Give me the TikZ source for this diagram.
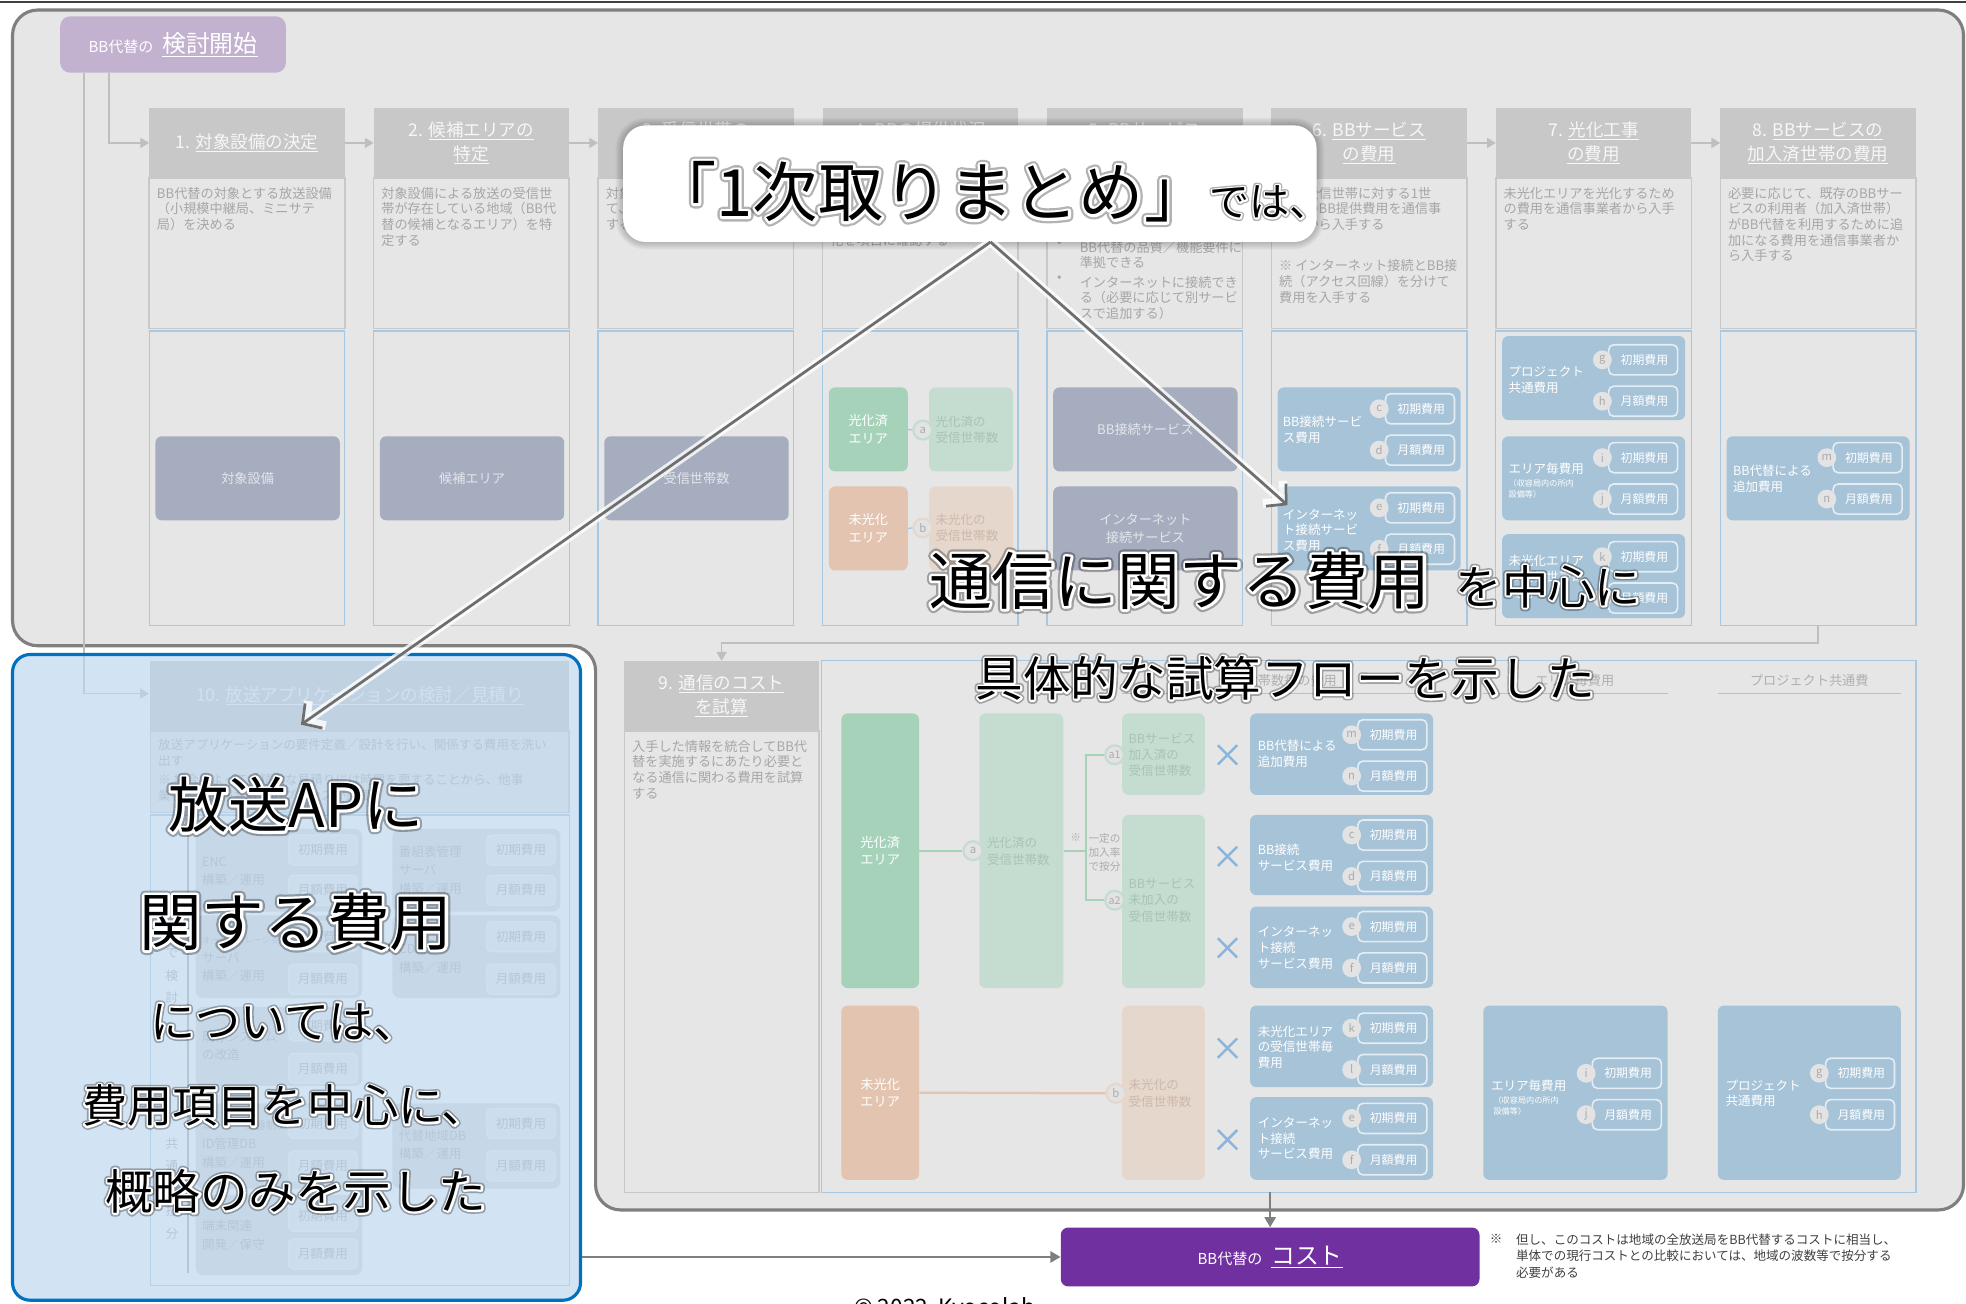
\documentclass[tikz,border=0pt]{standalone}
\usepackage{fontspec}
\setmainfont{Noto Sans CJK JP}
\newfontfamily\oW[FakeBold=8]{Noto Sans CJK JP}
\newfontfamily\oD[FakeBold=15]{Noto Sans CJK JP}
\usetikzlibrary{arrows.meta,calc}
\definecolor{bg}{HTML}{E6E6E6}
\definecolor{outerc}{HTML}{7F7F7F}
\definecolor{hdrc}{HTML}{C8C8C8}
\definecolor{hdrtxt}{HTML}{F7F7F7}
\definecolor{descbd}{HTML}{C8C8C8}
\definecolor{dtxt}{HTML}{A6A6A6}
\definecolor{lowbd}{HTML}{A8C8E2}
\definecolor{slatec}{HTML}{A6ADBE}
\definecolor{slatetxt}{HTML}{E3E6EC}
\definecolor{costc}{HTML}{A7C3D8}
\definecolor{subbd}{HTML}{E4EDF4}
\definecolor{circf}{HTML}{E3E3E3}
\definecolor{circt}{HTML}{ABABAB}
\definecolor{gr1}{HTML}{A6D2BA}
\definecolor{gr2}{HTML}{C5DDD0}
\definecolor{gr2t}{HTML}{A8C2B4}
\definecolor{or1}{HTML}{E2C4B0}
\definecolor{or2}{HTML}{E5D7CC}
\definecolor{or2t}{HTML}{CDB8AA}
\definecolor{purl}{HTML}{C3B1D0}
\definecolor{purd}{HTML}{7030A0}
\definecolor{conncol}{HTML}{BFBFBF}
\definecolor{crossc}{HTML}{8DB5DA}
\definecolor{arrowc}{HTML}{6E6E6E}
\definecolor{bluep}{HTML}{0070C0}
\definecolor{bluefill}{HTML}{BDD7EE}
\definecolor{notet}{HTML}{404040}
\definecolor{grpf}{HTML}{DCDCDC}
\definecolor{fhc}{HTML}{B0B0B0}
\newcommand\fsz[2]{\fontsize{#1}{#2}\selectfont}
\newcommand\rbox[7]{\node[#6,minimum width={(#4-#2)*1pt},minimum height={(#5-#3)*1pt}] (#1) at ({(#2+#4)/2},{(#3+#5)/2}) {#7};}
\newcommand\sbx[5]{\node[subb] (#1) at ({#2+32.5},#3) {\hspace*{2pt}#5};\node[circ] (#1c) at (#2,#3) {#4};}
\newcommand\tbx[4]{\node[subten] (#1) at ({#2+27.5},#3) {#4};}
\newcommand\otext[5]{%
  \node[text=black,opacity=0.3,font={\oD#4},inner sep=0pt] (#1d) at (#2,#3) {#5};%
  \node[text=white,font={\oW#4},inner sep=0pt] (#1w) at (#2,#3) {#5};%
  \node[text=black,font=#4,inner sep=0pt] (#1) at (#2,#3) {#5};}
\begin{document}
\begin{tikzpicture}[x=1pt,y=-1pt,
 hdr/.style={fill=hdrc,text=hdrtxt,inner sep=0pt,outer sep=0pt,align=center,font=\fsz{14}{19}},
 descb/.style={fill=bg,draw=descbd,line width=1.2pt,inner sep=0pt,outer sep=0pt},
 lowb/.style={draw=lowbd,line width=1pt,inner sep=0pt,outer sep=0pt},
 slatebox/.style={fill=slatec,rounded corners=5pt,text=slatetxt,inner sep=0pt,align=center,font=\fsz{10.5}{14}},
 costbox/.style={fill=costc,rounded corners=5pt,inner sep=0pt},
 subb/.style={draw=subbd,line width=1.3pt,fill=costc,rounded corners=4pt,minimum width=55pt,minimum height=24pt,inner sep=0pt,text=white,font=\fsz{9.5}{11}},
 circ/.style={circle,fill=circf,text=circt,minimum size=15pt,inner sep=0pt,font=\fsz{9}{10}},
 circg/.style={circle,fill=circf,draw=gr2,line width=1.8pt,text=circt,minimum size=15pt,inner sep=0pt,font=\fsz{9}{10}},
 circo/.style={circle,fill=circf,draw=or2,line width=1.8pt,text=circt,minimum size=15pt,inner sep=0pt,font=\fsz{9}{10}},
 dtext/.style={text=dtxt,align=left,anchor=north west,inner sep=0pt,font=\fsz{10.5}{12.5}},
 ltext/.style={text=white,align=left,anchor=west,inner sep=0pt,font=\fsz{10}{12.5}},
 gtext/.style={text=gr2t,align=left,anchor=west,inner sep=0pt,font=\fsz{10}{13}},
 otxt/.style={text=or2t,align=left,anchor=west,inner sep=0pt,font=\fsz{10}{13}},
 greenbox/.style={fill=gr1,rounded corners=5pt,text=white,align=center,inner sep=0pt,font=\fsz{10.5}{14}},
 lgreenbox/.style={fill=gr2,rounded corners=5pt,inner sep=0pt},
 orangebox/.style={fill=or1,rounded corners=5pt,text=white,align=center,inner sep=0pt,font=\fsz{10.5}{14}},
 lorangebox/.style={fill=or2,rounded corners=5pt,inner sep=0pt},
 conn/.style={draw=conncol,line width=1.3pt},
 tipg/.style={-{Triangle[length=7pt,width=8pt]}},
 gline/.style={draw=gr1,line width=1.8pt},
 oline/.style={draw=or1,line width=1.8pt},
 crossn/.style={minimum size=15pt,inner sep=0pt},
 grp/.style={fill=grpf,rounded corners=6pt,inner sep=0pt},
 subten/.style={draw=white!70!bg,line width=1pt,fill=white!30!bg,rounded corners=4pt,minimum width=55pt,minimum height=24pt,inner sep=0pt,text=dtxt,font=\fsz{10}{11}},
 ttext/.style={text=dtxt,align=left,anchor=west,inner sep=0pt,font=\fsz{10}{15}},
 fhead/.style={text=fhc,inner sep=0pt,font=\fsz{10.5}{12}},
]
\useasboundingbox (0,0) rectangle (1568,1040);
\fill[white] (0,0) rectangle (1568,1040);
\draw[line width=2pt,draw=black!75] (0,1.5) -- (1568,1.5);
% outer L region
\draw[line width=2.5pt,draw=outerc,fill=bg,rounded corners=20pt] (10,8) -- (1566,8) -- (1566,965) -- (475,965) -- (475,515) -- (10,515) -- cycle;
% start box
\rbox{start}{48}{13}{228}{58}{fill=purl,rounded corners=8pt,text=white,inner sep=0pt}{{\fsz{12}{14}BB代替の}\hspace{7pt}{\fsz{19}{22}\underline{検討開始}}}
% columns
\rbox{h1}{119}{86}{275}{142}{hdr}{1. \underline{対象設備の決定}}
\rbox{h2}{298}{86}{454}{142}{hdr}{2. \underline{候補エリアの}\\\underline{特定}}
\rbox{h3}{477}{86}{633}{142}{hdr}{3. \underline{受信世帯の}\\\underline{把握}}
\rbox{h4}{656}{86}{812}{142}{hdr}{4. \underline{BBの提供状況}\\\underline{の確認}}
\rbox{h5}{835}{86}{991}{142}{hdr}{5. \underline{BBサービス}\\\underline{の選定}}
\rbox{h6}{1014}{86}{1170}{142}{hdr}{6. \underline{BBサービス}\\\underline{の費用}}
\rbox{h7}{1193}{86}{1349}{142}{hdr}{7. \underline{光化工事}\\\underline{の費用}}
\rbox{h8}{1372}{86}{1528}{142}{hdr}{8. \underline{BBサービスの}\\\underline{加入済世帯の費用}}
\foreach \i/\xl in {1/119,2/298,3/477,4/656,5/835,6/1014,7/1193,8/1372}{
  \rbox{d\i}{\xl}{142}{\xl+156}{262}{descb}{}
  \rbox{l\i}{\xl}{264}{\xl+156}{499}{lowb}{}
}
\foreach \a/\b in {1/2,2/3,3/4,4/5,5/6,6/7,7/8}{\draw[conn,tipg] (h\a.east) -- (h\b.west);}
\draw[conn,tipg] ($(start.south west)+(39,0)$) |- (h1.west);
\draw[conn,tipg] ($(start.south west)+(19,0)$) |- ($(start.south west)+(71,495)$);
% descriptions
\node[dtext] (t1) at (125,149) {BB代替の対象とする放送設備\\（小規模中継局、ミニサテ\\局）を決める};
\node[dtext] (t2) at (304,149) {対象設備による放送の受信世\\帯が存在している地域（BB代\\替の候補となるエリア）を特\\定する};
\node[dtext] (t3) at (483,149) {対象エリア内の受信世帯数につい\\て、光化済／未光化に分けて把握\\する};
\node[dtext] (t4) at (662,149) {対象エリアにおけるBBサー\\ビスの提供状況を受信世帯\\数で把握し、光化済／未光\\化を項目に確認する};
\node[dtext] (t5a) at (843,192) {•};
\node[dtext] (t5b) at (861,192) {BB代替の品質／機能要件に\\準拠できる};
\node[dtext] (t5c) at (843,220) {•};
\node[dtext] (t5d) at (861,220) {インターネットに接続でき\\る（必要に応じて別サービ\\スで追加する）};
\node[dtext] (t6) at (1020,149) {対象受信世帯に対する1世\\帯毎のBB提供費用を通信事\\業者から入手する};
\node[dtext] (t6b) at (1020,207) {※ インターネット接続とBB接\\続（アクセス回線）を分けて\\費用を入手する};
\node[dtext] (t7) at (1199,149) {未光化エリアを光化するため\\の費用を通信事業者から入手\\する};
\node[dtext] (t8) at (1378,149) {必要に応じて、既存のBBサー\\ビスの利用者（加入済世帯）\\がBB代替を利用するために追\\加になる費用を通信事業者か\\ら入手する};
% lower contents
\rbox{s1}{124}{348}{271}{415}{slatebox}{対象設備}
\rbox{s2}{303}{348}{450}{415}{slatebox}{候補エリア}
\rbox{s3}{482}{348}{629}{415}{slatebox}{受信世帯数}
\rbox{g4a}{661}{309}{724}{376}{greenbox}{光化済\\エリア}
\rbox{g4b}{741}{309}{808}{376}{lgreenbox}{}
\node[gtext] (g4bt) at (746,343) {光化済の\\受信世帯数};
\node[circg] (g4c) at (736,343) {a};
\draw[draw=lowbd,line width=1pt] (g4a.east) -- (g4c.west);
\rbox{o4a}{661}{388}{724}{455}{orangebox}{未光化\\エリア}
\rbox{o4b}{741}{388}{808}{455}{lorangebox}{}
\node[otxt] (o4bt) at (746,421) {未光化の\\受信世帯数};
\node[circo] (o4c) at (736,421) {b};
\draw[draw=lowbd,line width=1pt] (o4a.east) -- (o4c.west);
\rbox{s5a}{840}{309}{987}{376}{slatebox}{BB接続サービス}
\rbox{s5b}{840}{388}{987}{455}{slatebox}{インターネット\\接続サービス}
\rbox{c6a}{1019}{309}{1165}{376}{costbox}{}
\node[ltext] (c6at) at (1023,343) {BB接続サービ\\ス費用};
\sbx{c6c}{1100}{326}{c}{初期費用}
\sbx{c6d}{1100}{359}{d}{月額費用}
\rbox{c6b}{1019}{388}{1165}{455}{costbox}{}
\node[ltext] (c6bt) at (1023,423) {インターネッ\\ト接続サービ\\ス費用};
\sbx{c6e}{1100}{405}{e}{初期費用}
\sbx{c6f}{1100}{438}{f}{月額費用}
\rbox{c7a}{1198}{268}{1344}{335}{costbox}{}
\node[ltext] (c7at) at (1203,303) {プロジェクト\\共通費用};
\sbx{c7g}{1278}{287}{g}{初期費用}
\sbx{c7h}{1278}{320}{h}{月額費用}
\rbox{c7b}{1198}{348}{1344}{415}{costbox}{}
\node[ltext] (c7bt) at (1203,374) {エリア毎費用};
\node[ltext,font=\fsz{6.5}{8.5}] (c7bs) at (1203,390) {（収容局内の所内\\設備等）};
\sbx{c7i}{1278}{365}{i}{初期費用}
\sbx{c7j}{1278}{398}{j}{月額費用}
\rbox{c7c}{1198}{426}{1344}{493}{costbox}{}
\node[ltext] (c7ct) at (1203,460) {未光化エリア\\の受信世帯毎\\費用};
\sbx{c7k}{1278}{444}{k}{初期費用}
\sbx{c7l}{1278}{477}{l}{月額費用}
\rbox{c8a}{1377}{348}{1523}{415}{costbox}{}
\node[ltext] (c8at) at (1382,382) {BB代替による\\追加費用};
\sbx{c8m}{1457}{365}{m}{初期費用}
\sbx{c8n}{1457}{398}{n}{月額費用}
% section 9
\rbox{h9}{498}{527}{653}{583}{hdr}{9. \underline{通信のコスト}\\\underline{を試算}}
\rbox{d9}{498}{583}{653}{951}{descb}{}
\node[dtext] (t9) at (504,590) {入手した情報を統合してBB代\\替を実施するにあたり必要と\\なる通信に関わる費用を試算\\する};
\draw[conn,tipg] (l8.south) -- ++(0,14) -| (h9.north);
\rbox{flow}{655}{527}{1528}{951}{lowb}{}
\node[fhead] (fh1) at (1019,543) {受信世帯数毎の費用};
\node[fhead] (fh2) at (1256,543) {エリア毎費用};
\node[fhead] (fh3) at (1443,543) {プロジェクト共通費};
\draw[conncol,line width=1pt] (895,553) -- (1143,553) (1183,553) -- (1330,553) (1370,553) -- (1516,553);
\rbox{fg1}{671}{569}{733}{788}{greenbox}{光化済\\エリア}
\rbox{fg2}{781}{569}{848}{788}{lgreenbox}{}
\node[gtext] (fg2t) at (787,679) {光化済の\\受信世帯数};
\rbox{fa1}{895}{569}{961}{634}{lgreenbox}{}
\node[gtext] (fa1t) at (900,602) {BBサービス\\加入済の\\受信世帯数};
\rbox{fa2}{895}{650}{961}{788}{lgreenbox}{}
\node[gtext] (fa2t) at (900,718) {BBサービス\\未加入の\\受信世帯数};
\node[circg] (fac) at (776,678.5) {a};
\node[circg,font=\fsz{8.5}{10}] (fa1c) at (889,602) {a1};
\node[circg,font=\fsz{8.5}{10}] (fa2c) at (889,718) {a2};
\draw[gline] (fg1.east) -- (fac.west);
\draw[gline] (fg2.east) -- ++(18,0) coordinate (br);
\draw[gline] (fa1c.west) -| (br) |- (fa2c.west);
\node[text=circt,inner sep=0pt,font=\fsz{8.5}{10}] (kome) at (858,668) {※};
\node[text=circt,align=left,anchor=west,inner sep=0pt,font=\fsz{8.5}{11}] (ritsu) at (868,680) {一定の\\加入率\\で按分};
\rbox{fo1}{671}{802}{733}{941}{orangebox}{未光化\\エリア}
\rbox{fo2}{895}{802}{961}{941}{lorangebox}{}
\node[otxt] (fo2t) at (900,872) {未光化の\\受信世帯数};
\node[circo] (fbc) at (890,872) {b};
\draw[oline] (fo1.east) -- (fbc.west);
\foreach \yy [count=\k] in {602,683,756,836,909}{
  \node[crossn] (x\k) at (979,\yy) {};
  \draw[crossc,line width=2pt] (x\k.north west) -- (x\k.south east) (x\k.north east) -- (x\k.south west);
}
\rbox{fm}{997}{569}{1143}{634}{costbox}{}
\node[ltext] (fmt) at (1003,601) {BB代替による\\追加費用};
\sbx{fmm}{1078}{586}{m}{初期費用}
\sbx{fmn}{1078}{619}{n}{月額費用}
\rbox{fc}{997}{650}{1143}{714}{costbox}{}
\node[ltext] (fct) at (1003,684) {BB接続\\サービス費用};
\sbx{fcc}{1078}{666}{c}{初期費用}
\sbx{fcd}{1078}{699}{d}{月額費用}
\rbox{fe}{997}{723}{1143}{788}{costbox}{}
\node[ltext] (fet) at (1003,756) {インターネッ\\ト接続\\サービス費用};
\sbx{fee}{1078}{739}{e}{初期費用}
\sbx{fef}{1078}{772}{f}{月額費用}
\rbox{fk}{997}{802}{1143}{867}{costbox}{}
\node[ltext] (fkt) at (1003,835) {未光化エリア\\の受信世帯毎\\費用};
\sbx{fkk}{1078}{820}{k}{初期費用}
\sbx{fkl}{1078}{853}{l}{月額費用}
\rbox{fe2}{997}{875}{1143}{941}{costbox}{}
\node[ltext] (fe2t) at (1003,908) {インターネッ\\ト接続\\サービス費用};
\sbx{fe2e}{1078}{892}{e}{初期費用}
\sbx{fe2f}{1078}{925}{f}{月額費用}
\rbox{farea}{1183}{802}{1330}{941}{costbox}{}
\node[ltext] (fareat) at (1189,866) {エリア毎費用};
\node[ltext,font=\fsz{6.5}{8.5}] (fareas) at (1191,882) {（収容局内の所内\\設備等）};
\sbx{fai}{1265}{856}{i}{初期費用}
\sbx{faj}{1265}{889}{j}{月額費用}
\rbox{fproj}{1370}{802}{1516}{941}{costbox}{}
\node[ltext] (fprojt) at (1376,872) {プロジェクト\\共通費用};
\sbx{fpg}{1451}{856}{g}{初期費用}
\sbx{fph}{1451}{889}{h}{月額費用}
% section 10
\rbox{h10}{120}{527}{454}{583}{hdr}{10. \underline{放送アプリケーションの検討／見積り}}
\rbox{d10}{120}{583}{454}{648}{descb}{}
\node[dtext,font=\fsz{10}{12.5}] (t10) at (126,589) {放送アプリケーションの要件定義／設計を行い、関係する費用を洗い\\出す};
\node[dtext,font=\fsz{10}{12.5}] (t10b) at (126,617) {※ 場合によっては精緻な見積りには時間を要することから、他事\\業者との情報共有等のプロセスが必要};
\rbox{l10}{120}{650}{454}{1025}{lowb}{}
\draw[dtxt,line width=1.2pt] (l10.north west) ++(30,12) -- ++(0,353);
\node[text=dtxt,align=center,inner sep=0pt,font=\fsz{10}{18}] (v1) at (137,760) {各\\局\\で\\検\\討};
\node[text=dtxt,align=center,inner sep=0pt,font=\fsz{10}{18}] (v2) at (137,948) {共\\通\\で\\按\\分};
\rbox{gL1}{156}{661}{289}{727}{grp}{}
\rbox{gR1}{313}{661}{447}{727}{grp}{}
\rbox{gL2}{156}{730}{289}{796}{grp}{}
\rbox{gR2}{313}{730}{447}{796}{grp}{}
\rbox{gL3}{156}{803}{289}{866}{grp}{}
\rbox{gL4}{156}{880}{289}{948}{grp}{}
\rbox{gR4}{313}{880}{447}{948}{grp}{}
\rbox{gL5}{156}{953}{289}{1017}{grp}{}
\tbx{L1a}{230}{678}{初期費用}\tbx{L1b}{230}{710}{月額費用}
\tbx{R1a}{388}{678}{初期費用}\tbx{R1b}{388}{710}{月額費用}
\tbx{L2a}{230}{747}{初期費用}\tbx{L2b}{230}{781}{月額費用}
\tbx{R2a}{388}{747}{初期費用}\tbx{R2b}{388}{781}{月額費用}
\tbx{L3a}{230}{818}{初期費用}\tbx{L3b}{230}{852}{月額費用}
\tbx{L4a}{230}{896}{初期費用}\tbx{L4b}{230}{930}{月額費用}
\tbx{R4a}{388}{896}{初期費用}\tbx{R4b}{388}{930}{月額費用}
\tbx{L5a}{230}{970}{初期費用}\tbx{L5b}{230}{1000}{月額費用}
\node[ttext] (L1t) at (161,695) {ENC\\構築／運用};
\node[ttext] (R1t) at (318,694) {番組表管理\\サーバ\\構築／運用};
\node[ttext] (L2t) at (161,765) {{\fsz{6.8}{15}オーケストレーション}\\サーバ\\構築／運用};
\node[ttext] (R2t) at (318,765) {CDN\\構築／運用};
\node[ttext] (L3t) at (161,834) {既存システム\\の改造};
\node[ttext] (L4t) at (161,913) {{\fsz{8.5}{15}ユーザ／機器制御}\\ID管理DB\\構築／運用};
\node[ttext] (R4t) at (318,913) {代替地域DB\\構築／運用};
\node[ttext] (L5t) at (161,985) {端末関連\\開発／保守};
% blue overlay panel
\rbox{p10}{10}{522}{463}{1037}{draw=bluep,line width=2.5pt,fill=bluefill,fill opacity=0.68,rounded corners=14pt,inner sep=0pt}{}
% bottom
\rbox{cost}{846}{979}{1180}{1026}{fill=purd,rounded corners=6pt,text=white,inner sep=0pt}{{\fsz{12}{14}BB代替の}\hspace{7pt}{\fsz{19}{22}\underline{コスト}}}
\draw[draw=outerc,line width=1.3pt,-{Triangle[length=8pt,width=9pt]}] (flow.south -| cost.north) -- (cost.north);
\draw[draw=outerc,line width=1.3pt,-{Triangle[length=8pt,width=9pt]}] (cost.west -| p10.east) -- (cost.west);
\node[text=notet,anchor=north west,inner sep=0pt,font=\fsz{10}{13}] (nk) at (1188,984) {※};
\node[text=notet,anchor=north west,align=left,inner sep=0pt,font=\fsz{10}{13}] (note) at (1209,984) {但し、このコストは地域の全放送局をBB代替するコストに相当し、\\単体での現行コストとの比較においては、地域の波数等で按分する\\必要がある};
\node[text=black,anchor=north west,inner sep=0pt,font=\fsz{18}{20}] (copy) at (681,1035) {© 2022\ \ Kyocolab};
% callout
\foreach \g in {1,...,6}{\fill[black,opacity=0.035,rounded corners={18pt+\g pt}] (497-\g,100-\g) rectangle (1050+\g,193+\g);}
\rbox{callout}{497}{100}{1050}{193}{fill=white,rounded corners=18pt,inner sep=0pt}{}
\begin{scope}[line join=round,line cap=round]
\otext{ct}{790}{153}{\fsz{52}{60}}{「1次取りまとめ」{\fsz{32}{40}では、}}
\end{scope}
\coordinate (apex) at (790,193);
\coordinate (tipL) at (240,578);
\coordinate (tipR) at (1027,403);
\draw[white,opacity=0.8,line width=7pt,-{Straight Barb[length=11pt,width=24pt]}] (apex) -- (tipL);
\draw[white,opacity=0.8,line width=7pt,-{Straight Barb[length=11pt,width=24pt]}] (apex) -- (tipR);
\draw[arrowc,line width=2.2pt,-{Straight Barb[length=11pt,width=24pt]}] (apex) -- (tipL);
\draw[arrowc,line width=2.2pt,-{Straight Barb[length=11pt,width=24pt]}] (apex) -- (tipR);
\begin{scope}[line join=round,line cap=round]
\otext{o1}{1025}{463}{\fsz{50}{56}}{通信に関する費用\hspace{20pt}{\fsz{37}{42}を中心に}}
\otext{o2}{1025}{541}{\fsz{38}{44}}{具体的な試算フローを示した}
\otext{o3}{236}{642}{\fsz{48}{54}}{放送APに}
\otext{o4}{236}{735}{\fsz{50}{56}}{関する費用}
\otext{o5}{227}{815}{\fsz{36}{42}}{については、}
\otext{o6}{227}{882}{\fsz{36}{42}}{費用項目を中心に、}
\otext{o7}{236}{950}{\fsz{38}{44}}{概略のみを示した}
\end{scope}
\end{tikzpicture}
\end{document}
